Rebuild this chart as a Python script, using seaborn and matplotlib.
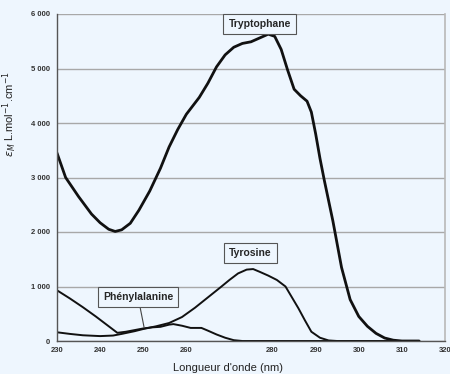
import matplotlib
matplotlib.use("Agg")
import matplotlib.pyplot as plt
import seaborn as sns
import pandas as pd

# Tryptophane
trp_nm = [230, 232, 235, 238, 240, 242, 243.5, 245, 247, 249, 251.5, 254, 256, 258, 260,
          263, 265, 267, 269, 271, 273, 275, 277, 279, 280.5, 282, 283.5, 285, 286.5, 288,
          289, 290, 291, 292, 294, 296, 298, 300, 302, 304, 306, 308, 310, 314]
trp_eps = [3450, 3000, 2650, 2330, 2170, 2050, 2010, 2040, 2160, 2400, 2750, 3170, 3560, 3880, 4160,
           4470, 4730, 5030, 5250, 5390, 5460, 5490, 5560, 5630, 5590, 5350, 4970, 4620, 4500, 4400,
           4200, 3800, 3350, 2950, 2200, 1350, 760, 450, 270, 140, 55, 15, 0, 0]

# Tyrosine
tyr_nm = [230, 233, 236, 240, 243, 245, 248, 250, 253, 256, 259, 262, 265, 268, 270, 272, 274,
          275.5, 277, 279, 281, 283, 284.5, 286, 287.5, 289, 291, 293, 295, 314]
tyr_eps = [160, 130, 105, 90, 100, 130, 180, 220, 270, 330, 440, 610, 800, 990, 1120, 1240, 1310,
           1320, 1270, 1200, 1120, 1000, 800, 600, 380, 170, 60, 10, 0, 0]

# Phenylalanine
phe_nm = [230, 233, 236, 239, 241, 243, 244, 246, 248, 250, 252, 254, 256, 257, 259, 261, 263.5,
          265, 267, 269, 271, 273, 314]
phe_eps = [930, 780, 620, 450, 330, 210, 150, 170, 200, 230, 250, 260, 300, 310, 280, 240, 240,
           190, 120, 60, 15, 0, 0]

x_ticks = [230, 240, 250, 260, 270, 280, 290, 300, 310, 320]
x_tick_labels = ["230", "240", "250", "260", "", "280", "290", "300", "310", "320"]
y_ticks = [0, 1000, 2000, 3000, 4000, 5000, 6000]
y_tick_labels = ["0", "1 000", "2 000", "3 000", "4 000", "5 000", "6 000"]

bg = "#eef6fe"
sns.set_style("white")
plt.rcParams["font.family"] = ["Liberation Sans", "DejaVu Sans"]

fig = plt.figure(figsize=(4.5, 3.74), dpi=100)
fig.patch.set_facecolor(bg)
ax = fig.add_axes([57 / 450, 1 - 341 / 374, 388 / 450, 327 / 374])
ax.set_facecolor(bg)

sns.lineplot(x=trp_nm, y=trp_eps, ax=ax, color="#111111", linewidth=2.0, sort=False)
sns.lineplot(x=tyr_nm, y=tyr_eps, ax=ax, color="#111111", linewidth=1.4, sort=False)
sns.lineplot(x=phe_nm, y=phe_eps, ax=ax, color="#111111", linewidth=1.4, sort=False)
for ln in ax.get_lines():
    ln.set_solid_joinstyle("round")
    ln.set_solid_capstyle("round")

ax.set_xlim(230, 320)
ax.set_ylim(0, 6000)
ax.set_xticks(x_ticks)
ax.set_xticklabels(x_tick_labels, fontsize=5.5, fontweight="bold", color="#333333")
ax.set_yticks(y_ticks)
ax.set_yticklabels(y_tick_labels, fontsize=5.5, fontweight="bold", color="#333333")
ax.tick_params(axis="y", direction="out", length=3, width=0.8, pad=2, color="#444444")
ax.tick_params(axis="x", direction="inout", length=4, width=0.8, pad=2, color="#444444")

ax.yaxis.grid(True, color="#a8a8a8", linewidth=1.0)
ax.xaxis.grid(False)
ax.set_axisbelow(True)
ax.spines["top"].set_visible(False)
ax.spines["right"].set_color("#b8b8b8")
ax.spines["right"].set_linewidth(1.2)
ax.spines["left"].set_color("#555555")
ax.spines["bottom"].set_color("#555555")
ax.spines["left"].set_linewidth(1.0)
ax.spines["bottom"].set_linewidth(1.0)

ax.set_xlabel("Longueur d'onde (nm)", fontsize=8, color="#222222")
ax.xaxis.set_label_coords(0.44, -0.066)
ax.set_ylabel(r"$\epsilon_M$ L.mol$^{-1}$.cm$^{-1}$", fontsize=8, color="#222222")
ax.yaxis.set_label_coords(-0.098, 0.694)

box = dict(boxstyle="square,pad=0.5", facecolor=bg, edgecolor="#555555", linewidth=0.8)
ax.text(277, 5816, "Tryptophane", fontsize=7.5, fontweight="bold", ha="center", va="center", bbox=box)
ax.text(274.9, 1620, "Tyrosine", fontsize=7.5, fontweight="bold", ha="center", va="center", bbox=box)
ax.annotate("Phénylalanine", xy=(250.2, 250), xytext=(248.8, 810), fontsize=7.5, fontweight="bold",
            ha="center", va="center", bbox=box,
            arrowprops=dict(arrowstyle="-", color="#444444", linewidth=0.8, shrinkA=0, shrinkB=0))

fig.savefig("out.png", dpi=100, facecolor=bg)
